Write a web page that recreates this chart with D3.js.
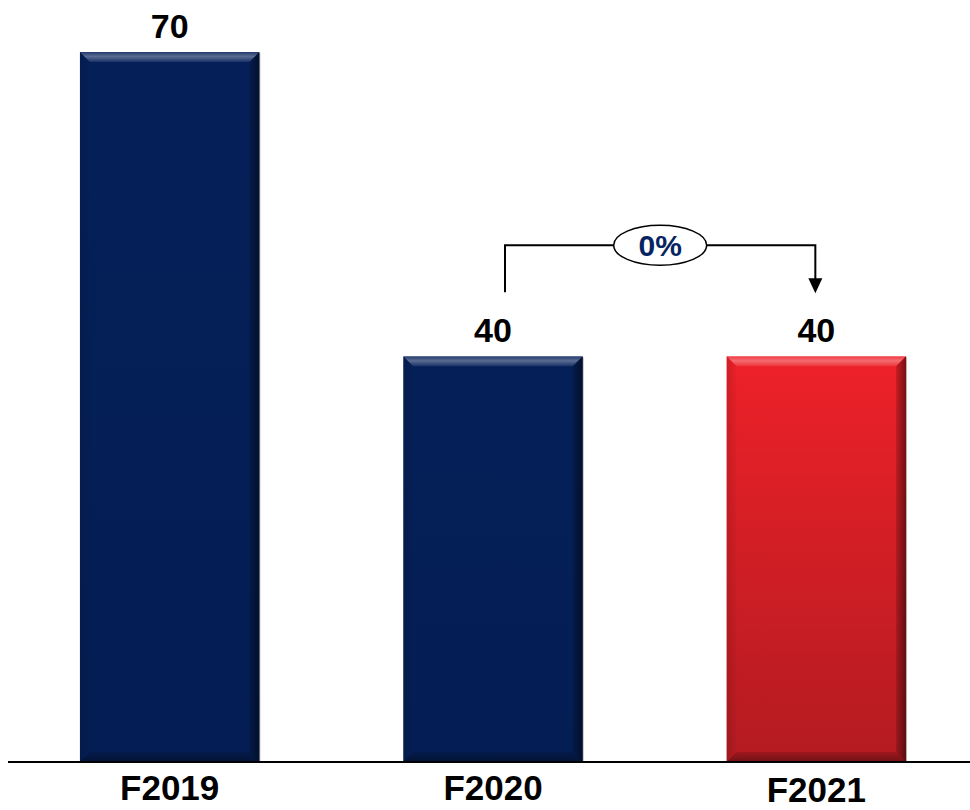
<!DOCTYPE html>
<html>
<head>
<meta charset="utf-8">
<script src="https://cdn.jsdelivr.net/npm/d3@7"></script>
<style>
  html, body { margin: 0; padding: 0; background: #fff; }
  svg { display: block; }
  text { font-family: "Liberation Sans", Arial, sans-serif; font-weight: bold; }
</style>
</head>
<body>
<svg id="chart" width="970" height="810"></svg>
<script>
// ---- data ----
const categories = ["F2019", "F2020", "F2021"];
const values = [70, 40, 40];
const changeFrom = "F2020";
const changeTo = "F2021";
const changeLabel = "0%";

// ---- layout ----
const baseY = 762, topY = 52;
const svg = d3.select("#chart");

const x = d3.scaleBand()
  .domain(categories)
  .range([8, 978])
  .paddingInner(0.445)
  .paddingOuter(0.2225);

const y = d3.scaleLinear().domain([0, 70]).range([baseY, topY]);

const bw = x.bandwidth();
const bevel = 10;

const defs = svg.append("defs");
function grad(id, stops, x1 = 0, y1 = 0, x2 = 0, y2 = 1) {
  const g = defs.append("linearGradient").attr("id", id)
    .attr("x1", x1).attr("y1", y1).attr("x2", x2).attr("y2", y2);
  stops.forEach(s => g.append("stop").attr("offset", s[0]).attr("stop-color", s[1]).attr("stop-opacity", s[2] == null ? 1 : s[2]));
}
grad("navyFill", [[0, "#052059"], [1, "#041E54"]]);
grad("redFill", [[0, "#EE2129"], [1, "#B31B21"]]);
grad("topHi", [[0, "#ffffff", 0.12], [0.45, "#ffffff", 0.34], [1, "#ffffff", 0.08]]);
grad("rightSh", [[0, "#000000", 0.15], [1, "#000000", 0.5]], 0, 0, 1, 0);
grad("leftSh", [[0, "#000000", 0.12], [1, "#000000", 0.02]], 0, 0, 1, 0);
grad("botSh", [[0, "#000000", 0.12], [1, "#000000", 0.38]]);

const fillFor = c => c === changeTo ? "url(#redFill)" : "url(#navyFill)";

const data = categories.map((c, i) => ({ c, v: values[i] }));

const bars = svg.append("g").selectAll("g.bar").data(data).join("g").attr("class", "bar");

bars.each(function (d) {
  const g = d3.select(this);
  const x0 = x(d.c), x1 = x0 + bw, y0 = y(d.v), y1 = y(0);
  const b = bevel;
  g.append("rect").attr("x", x0 + 1).attr("y", y0 + 1).attr("width", bw).attr("height", y1 - y0 - 1)
    .attr("fill", "#000").attr("opacity", 0.25);
  g.append("rect").attr("x", x0).attr("y", y0).attr("width", bw).attr("height", y1 - y0)
    .attr("fill", fillFor(d.c));
  const poly = (pts, fill) => g.append("path").attr("d", "M" + pts.map(p => p.join(",")).join("L") + "Z").attr("fill", fill);
  poly([[x0, y0], [x1, y0], [x1 - b, y0 + b], [x0 + b, y0 + b]], "url(#topHi)");
  poly([[x0, y0], [x0 + b, y0 + b], [x0 + b, y1 - b], [x0, y1]], "url(#leftSh)");
  poly([[x1, y0], [x1, y1], [x1 - b, y1 - b], [x1 - b, y0 + b]], "url(#rightSh)");
  poly([[x0, y1], [x0 + b, y1 - b], [x1 - b, y1 - b], [x1, y1]], "url(#botSh)");
});

// value labels
svg.append("g").selectAll("text").data(data).join("text")
  .attr("x", d => x(d.c) + bw / 2)
  .attr("y", d => y(d.v) - 14)
  .attr("text-anchor", "middle")
  .attr("font-size", 34)
  .attr("fill", "#000")
  .text(d => d.v);

// axis
const axis = d3.axisBottom(x).tickSize(0).tickPadding(0);
const axisG = svg.append("g").attr("transform", `translate(0,${baseY})`).call(axis);
axisG.select(".domain").attr("d", `M8,0H970`).attr("stroke", "#000").attr("stroke-width", 2);
axisG.selectAll(".tick text")
  .attr("font-size", 35)
  .attr("font-family", "Liberation Sans, Arial, sans-serif")
  .attr("font-weight", "bold")
  .attr("fill", "#000")
  .attr("dy", 0)
  .attr("y", (d, i) => i === 2 ? 40 : 38);

// change annotation
const fx = x(changeFrom) + bw / 2 + 12;
const tx = x(changeTo) + bw / 2 - 1;
const startY = y(values[categories.indexOf(changeFrom)]) - 64;
const tipY = y(values[categories.indexOf(changeTo)]) - 63;
const brY = startY - 47;
const ann = svg.append("g").attr("stroke", "#000").attr("stroke-width", 2).attr("fill", "none");
ann.append("path").attr("d", `M${fx},${startY}V${brY}H${tx}V${tipY - 14}`);
svg.append("path").attr("d", `M${tx - 7},${tipY - 15}L${tx + 7},${tipY - 15}L${tx},${tipY}Z`).attr("fill", "#000");
const cx = (fx + tx) / 2;
svg.append("ellipse").attr("cx", cx).attr("cy", brY).attr("rx", 46.5).attr("ry", 20)
  .attr("fill", "#fff").attr("stroke", "#000").attr("stroke-width", 1.5);
svg.append("text").attr("x", cx).attr("y", brY + 10.5).attr("text-anchor", "middle")
  .attr("font-size", 30).attr("fill", "#062461").text(changeLabel);
</script>
</body>
</html>
